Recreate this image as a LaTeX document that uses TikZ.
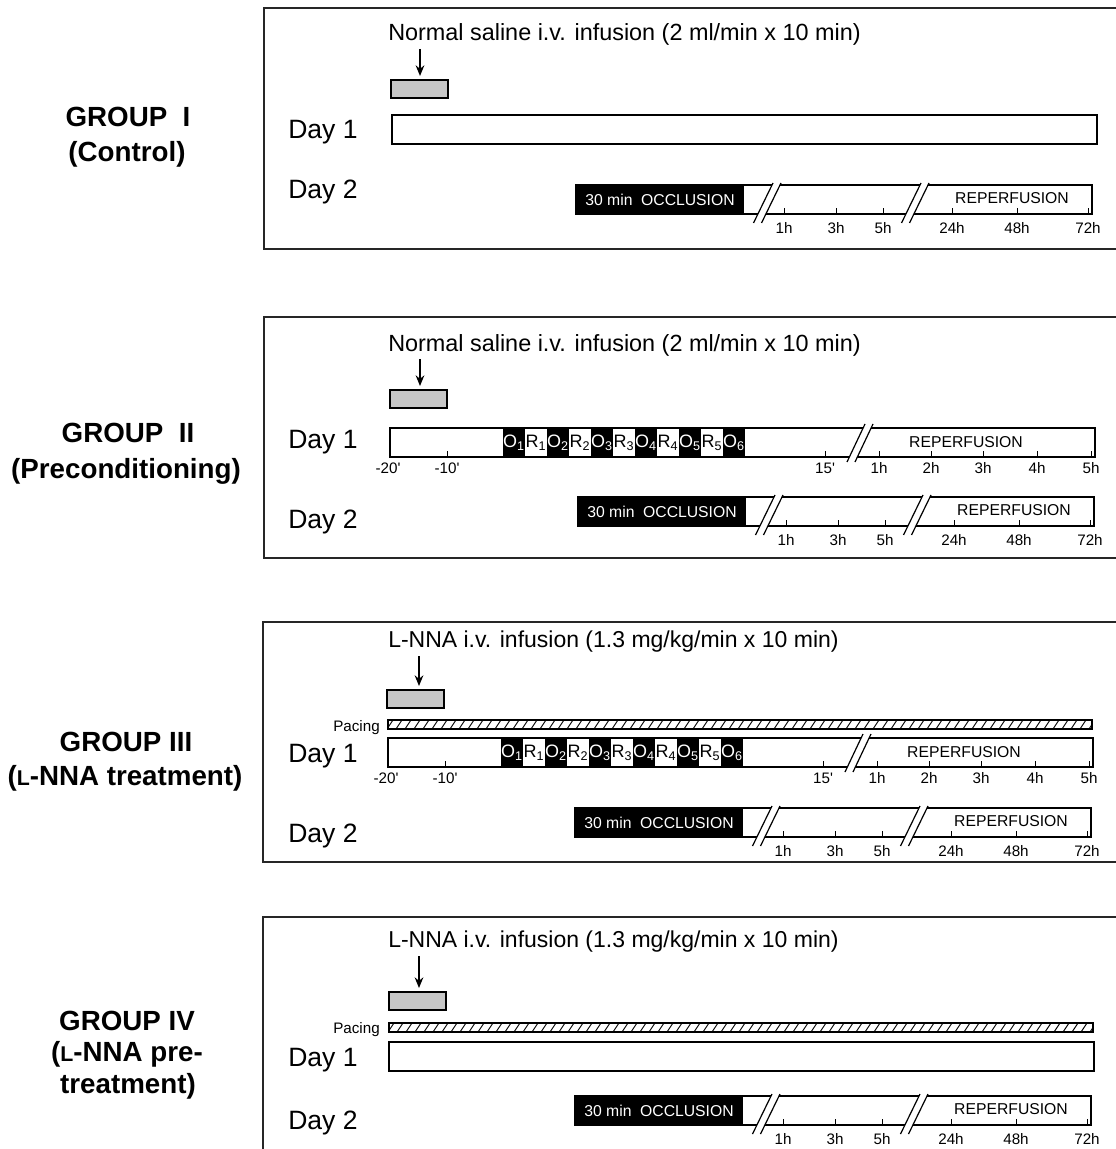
\documentclass[tikz,border=0pt]{standalone}
\usepackage{fontspec}
\setmainfont{Liberation Sans}
\usetikzlibrary{arrows.meta}
\newcommand\myprime{\textquotesingle}
\newcommand\smL{{\fontsize{16}{16}\selectfont L}}
\tikzset{
  frame/.style={line width=1.1pt, draw=black!85},
  bar/.style={draw=black, line width=0.9pt},
  gbox/.style={draw=black, fill=black!22, line width=0.9pt, inner sep=0pt, outer sep=0pt,
    minimum width=42.75pt, minimum height=13.5pt, anchor=north west},
  dlab/.style={anchor=base west, inner sep=0pt, font=\fontsize{19.9}{20}\selectfont},
  glab/.style={anchor=base, font=\bfseries\fontsize{20.8}{22}\selectfont},
  inf/.style={anchor=base west, inner sep=0pt, font=\fontsize{17.55}{18}\selectfont},
  infb/.style={anchor=base west, inner sep=0pt, font=\fontsize{17.25}{18}\selectfont},
  sm/.style={font=\fontsize{11.8}{12}\selectfont},
  tl/.style={font=\fontsize{11.4}{12}\selectfont, anchor=base},
  plab/.style={anchor=base east, inner sep=0pt, font=\fontsize{11.4}{12}\selectfont},
  occ/.style={fill=black, text=white, anchor=north west, inner sep=0pt, outer sep=0pt,
    minimum width=126pt, minimum height=21.75pt, font=\fontsize{11.8}{12}\selectfont},
  obox/.style={fill=black, text=white, inner sep=0pt, outer sep=0pt,
    minimum width=16.5pt, minimum height=21.75pt, font=\fontsize{13.5}{14}\selectfont},
  rbox/.style={fill=white, text=black, inner sep=0pt, outer sep=0pt,
    minimum width=16.5pt, minimum height=21.75pt, font=\fontsize{13.5}{14}\selectfont},
  arr/.style={-{Stealth[length=8pt,width=6.5pt]}, line width=1.2pt, shorten >=3pt},
}
% Day 2 timeline: #1 prefix, #2 x0, #3 y0
\newcommand\dtwo[3]{%
\begin{scope}[shift={(#2,#3)}]
  \node[occ] (#1occ) at (0,0) {30 min\hspace{0.55em}OCCLUSION};
  \draw[bar] (0,0) rectangle (516,29);
  \foreach \b in {191,339}{%
    \fill[white] (\b-4+10,-2) -- (\b+4+10,-2) -- (\b+4-9.5,38) -- (\b-4-9.5,38) -- cycle;
    \draw[line width=0.9pt] (\b-4+10,-2) -- (\b-4-9.5,38);
    \draw[line width=0.9pt] (\b+4+10,-2) -- (\b+4-9.5,38);
  }
  \foreach \t/\l in {208/1h,260/3h,307/5h,376/24h,441/48h,512/72h}{%
    \draw[line width=0.7pt] (\t,29) -- (\t,23);
    \node[tl] at (\t,48) {\l};
  }
  \node[sm] (#1rep) at (436,13) {REPERFUSION};
\end{scope}}
% Day 1 timeline with occlusion/reperfusion cycles
\newcommand\done[3]{%
\begin{scope}[shift={(#2,#3)}]
  \foreach \n in {1,...,6}{\node[obox] (#1o\n) at (113+44*\n-44+11,14.5) {O\textsubscript{\n}};}
  \foreach \n in {1,...,5}{\node[rbox] (#1r\n) at (113+44*\n-44+33,14.5) {R\textsubscript{\n}};}
  \draw[bar] (0,0) rectangle (705,29);
  \fill[white] (470-4+9,-4) -- (470+4+9,-4) -- (470+4-9,34) -- (470-4-9,34) -- cycle;
  \draw[line width=0.9pt] (470-4+9,-4) -- (470-4-9,34);
  \draw[line width=0.9pt] (470+4+9,-4) -- (470+4-9,34);
  \foreach \t/\l in {57/-10\myprime,435/15\myprime,489/1h,541/2h,593/3h,647/4h,701/5h}{%
    \draw[line width=0.7pt] (\t,29) -- (\t,23);
    \node[tl] at (\t,45) {\l};
  }
  \node[tl] at (-2,45) {-20\myprime};
  \node[sm] (#1rep) at (576,14) {REPERFUSION};
\end{scope}}
% pacing hatched bar
\newcommand\pacing[3]{%
\begin{scope}[shift={(#2,#3)}]
  \begin{scope}
    \clip (0,0) rectangle (704,9);
    \foreach \i in {-10,-1,...,712}{\draw[line width=0.7pt] (\i,9) -- (\i+6,0);}
  \end{scope}
  \draw[bar] (0,0) rectangle (704,9);
\end{scope}}
\begin{document}
\begin{tikzpicture}[x=0.75pt,y=-0.75pt]
\useasboundingbox (0,0) rectangle (1116,1149);
\fill[white] (0,0) rectangle (1116,1149);

% ---------------- Panel I
\draw[frame] (1116,8) -- (264,8) -- (264,249) -- (1116,249);
\node[glab] (g1a) at (128,127) {GROUP\ \ I};
\node[glab] (g1b) at (127,161) {(Control)};
\node[inf] (t1) at (388,41) {Normal saline i.v. infusion (2 ml/min x 10 min)};
\node[gbox] (b1) at (391,80) {};
\coordinate (a1) at (420,49);
\draw[arr] (a1) -- (a1 |- b1.north);
\node[dlab] (d11) at (288,138) {Day 1};
\draw[bar] (392,115) rectangle (1097,144);
\node[dlab] (d12) at (288,198) {Day 2};
\dtwo{pa}{576}{185}

% ---------------- Panel II
\draw[frame] (1116,317) -- (264,317) -- (264,558) -- (1116,558);
\node[glab] (g2a) at (128,442) {GROUP\ \ II};
\node[glab] (g2b) at (126,478) {(Preconditioning)};
\node[inf] (t2) at (388,351) {Normal saline i.v. infusion (2 ml/min x 10 min)};
\node[gbox] (b2) at (390,390) {};
\coordinate (a2) at (420,359);
\draw[arr] (a2) -- (a2 |- b2.north);
\node[dlab] (d21) at (288,448) {Day 1};
\done{pb}{390}{428}
\node[dlab] (d22) at (288,528) {Day 2};
\dtwo{pc}{578}{497}

% ---------------- Panel III
\draw[frame] (1116,622) -- (263,622) -- (263,862) -- (1116,862);
\node[glab] (g3a) at (126,751) {GROUP III};
\node[glab] (g3b) at (125,785) {(\smL-NNA treatment)};
\node[infb] (t3) at (388,647) {L-NNA i.v. infusion (1.3 mg/kg/min x 10 min)};
\node[gbox] (b3) at (387,690) {};
\coordinate (a3) at (419,656);
\draw[arr] (a3) -- (a3 |- b3.north);
\node[plab] (pl3) at (380,731) {Pacing};
\pacing{pd}{388}{720}
\node[dlab] (d31) at (288,762) {Day 1};
\done{pe}{388}{738}
\node[dlab] (d32) at (288,842) {Day 2};
\dtwo{pf}{575}{808}

% ---------------- Panel IV
\draw[frame] (1116,917) -- (263,917) -- (263,1149);
\node[glab] (g4a) at (127,1030) {GROUP IV};
\node[glab] (g4b) at (127,1061) {(\smL-NNA pre-};
\node[glab] (g4c) at (128,1093) {treatment)};
\node[infb] (t4) at (388,947) {L-NNA i.v. infusion (1.3 mg/kg/min x 10 min)};
\node[gbox] (b4) at (389,992) {};
\coordinate (a4) at (419,956);
\draw[arr] (a4) -- (a4 |- b4.north);
\node[plab] (pl4) at (380,1033) {Pacing};
\pacing{pg}{389}{1023}
\node[dlab] (d41) at (288,1066) {Day 1};
\draw[bar] (389,1042) rectangle (1094,1071);
\node[dlab] (d42) at (288,1129) {Day 2};
\dtwo{ph}{575}{1096}
\end{tikzpicture}
\end{document}
